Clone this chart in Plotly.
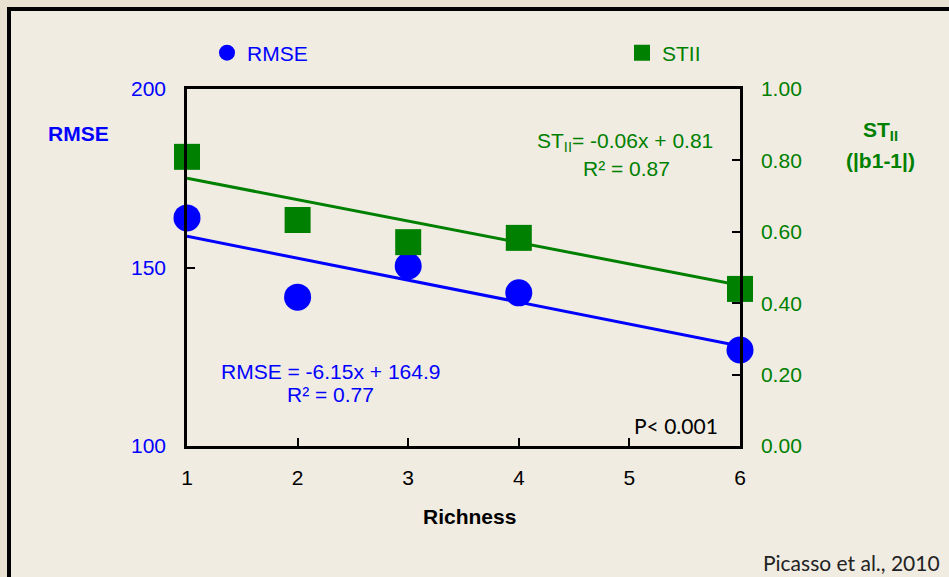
import plotly.graph_objects as go

richness = [1, 2, 3, 4, 6]
rmse = [163.9, 141.7, 150.4, 142.9, 126.9]
stii = [0.81, 0.633, 0.571, 0.583, 0.44]
rmse_fit = [-6.15, 164.9]   # slope, intercept
stii_fit = [-0.06, 0.81]
fit_x = [1, 6]
x_ticks = [1, 2, 3, 4, 5, 6]

W, H = 949, 577
L, R, T, B = 187, 740, 89, 446

def px(x):
    return (x - L) / (R - L)

def py(y):
    return (B - y) / (B - T)

BLUE = "#0000ff"
GREEN = "#008000"
AR = "Liberation Sans, Arial, sans-serif"
CAL = "Lato, Carlito, sans-serif"
FS = 21

fig = go.Figure()
fig.add_trace(go.Scatter(x=fit_x, y=[rmse_fit[0] * v + rmse_fit[1] for v in fit_x],
                         mode="lines", line=dict(color=BLUE, width=3), showlegend=False))
fig.add_trace(go.Scatter(x=fit_x, y=[stii_fit[0] * v + stii_fit[1] for v in fit_x],
                         mode="lines", line=dict(color=GREEN, width=3), showlegend=False, yaxis="y2"))
fig.add_trace(go.Scatter(x=richness, y=rmse, mode="markers", name="RMSE",
                         marker=dict(color=BLUE, size=27, symbol="circle"), legend="legend",
                         cliponaxis=False))
fig.add_trace(go.Scatter(x=richness, y=stii, mode="markers", name="STII",
                         marker=dict(color=GREEN, size=26, symbol="square"), yaxis="y2",
                         legend="legend2", cliponaxis=False))

shapes = [
    dict(type="rect", xref="paper", yref="paper", x0=px(9), x1=px(975), y0=py(9), y1=py(600),
         fillcolor="#f0ece2", line=dict(color="black", width=4), layer="below"),
]

annotations = [
    dict(text="<b>RMSE</b>", x=px(78), y=py(133), font=dict(color=BLUE, size=FS, family=AR)),
    dict(text="<b>ST<sub>II</sub></b>", x=px(880), y=py(131), font=dict(color=GREEN, size=FS, family=AR)),
    dict(text="<b>(|b1-1|)</b>", x=px(880), y=py(160), font=dict(color=GREEN, size=FS, family=AR)),
    dict(text="<b>Richness</b>", x=px(469), y=py(516), font=dict(color="black", size=FS, family=AR)),
    dict(text="ST<sub>II</sub>= -0.06x + 0.81", x=px(625), y=py(142), font=dict(color=GREEN, size=FS, family=AR)),
    dict(text="R² = 0.87", x=px(626), y=py(168), font=dict(color=GREEN, size=FS, family=AR)),
    dict(text="RMSE = -6.15x + 164.9", x=px(330), y=py(371), font=dict(color=BLUE, size=FS, family=AR)),
    dict(text="R² = 0.77", x=px(330), y=py(394), font=dict(color=BLUE, size=FS, family=AR)),
    dict(text="P< 0.001", x=px(676), y=py(425), font=dict(color="black", size=21, family=CAL)),
    dict(text="Picasso et al., 2010", x=px(851), y=py(562), font=dict(color="#222222", size=21, family=CAL)),
]
for a in annotations:
    a.update(xref="paper", yref="paper", showarrow=False, xanchor="center", yanchor="middle")

fig.update_layout(
    width=W, height=H,
    margin=dict(l=L, r=W - R, t=T, b=H - B),
    paper_bgcolor="#e8e0d0",
    plot_bgcolor="#f2efe6",
    font=dict(family=AR, size=FS),
    shapes=shapes,
    annotations=annotations,
    xaxis=dict(range=[1, 6], tickvals=x_ticks, showgrid=False, zeroline=False,
               showline=True, linecolor="black", linewidth=2.5, mirror=True,
               ticks="inside", ticklen=8, tickwidth=2, tickcolor="black",
               tickfont=dict(color="black", size=FS), ticklabelstandoff=11),
    yaxis=dict(range=[100, 200], tickvals=[100, 150, 200], showgrid=False, zeroline=False,
               showline=True, linecolor="black", linewidth=2.5,
               ticks="inside", ticklen=8, tickwidth=2, tickcolor="black",
               tickfont=dict(color=BLUE, size=FS), ticklabelstandoff=14),
    yaxis2=dict(range=[0, 1], tickvals=[0, 0.2, 0.4, 0.6, 0.8, 1.0], tickformat=".2f",
                overlaying="y", side="right", showgrid=False, zeroline=False,
                showline=True, linecolor="black", linewidth=2.5,
                ticks="inside", ticklen=8, tickwidth=2, tickcolor="black",
                tickfont=dict(color=GREEN, size=FS), ticklabelstandoff=14),
    legend=dict(x=px(207), y=py(53), xanchor="left", yanchor="middle", bgcolor="rgba(0,0,0,0)",
                font=dict(color=BLUE, size=FS), itemwidth=30),
    legend2=dict(x=px(622), y=py(53), xanchor="left", yanchor="middle", bgcolor="rgba(0,0,0,0)",
                 font=dict(color=GREEN, size=FS), itemwidth=30),
)

fig.write_html("out.html")
